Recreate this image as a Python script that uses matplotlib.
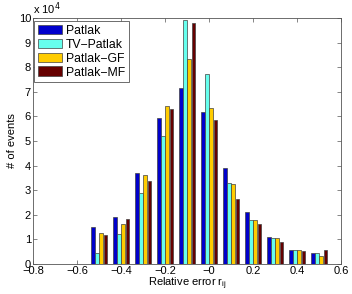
import numpy as np
import matplotlib
matplotlib.use('Agg')
import matplotlib.pyplot as plt
from matplotlib.ticker import FuncFormatter

plt.rcParams['font.family'] = ['Liberation Sans', 'DejaVu Sans']

# 相对误差分组中心
bins = [-0.5, -0.4, -0.3, -0.2, -0.1, 0.0, 0.1, 0.2, 0.3, 0.4, 0.5]
methods = ['Patlak', 'TV\u2212Patlak', 'Patlak\u2212GF', 'Patlak\u2212MF']
colors = ['#0000CC', '#66FFEE', '#FFCC00', '#660000']

# 每组事件数
patlak    = [14900, 19200, 37100, 59500, 71400, 61900, 39000, 21100, 10900, 5700, 4400]
tv_patlak = [4300, 12300, 28900, 52200, 99300, 77400, 32900, 17800, 10500, 5700, 4300]
patlak_gf = [12800, 16100, 36000, 64200, 83300, 63300, 32400, 17700, 10700, 5600, 3400]
patlak_mf = [11700, 18100, 33900, 62900, 98000, 58500, 26500, 16200, 9000, 5200, 5700]
series = [patlak, tv_patlak, patlak_gf, patlak_mf]

fs = 8

fig = plt.figure(figsize=(3.52, 2.94), dpi=100)
ax = fig.add_axes([0.094, 0.102, 0.875, 0.837])

x = np.array(bins)
pitch = 0.019
width = 0.016
for i, (vals, c, name) in enumerate(zip(series, colors, methods)):
    ax.bar(x + (i - 1.5) * pitch, vals, width=width, color=c,
           edgecolor='#404040', linewidth=0.5, label=name)

ax.set_xlim(-0.8, 0.6)
ax.set_ylim(0, 100000)
ax.set_xticks(np.arange(-0.8, 0.61, 0.2))
ax.set_yticks(np.arange(0, 100001, 10000))
ax.xaxis.set_major_formatter(FuncFormatter(lambda v, p: ('%g' % round(v, 1)).replace('-', '\u2212')))
ax.yaxis.set_major_formatter(FuncFormatter(lambda v, p: '%d' % round(v / 1e4)))
ax.tick_params(direction='in', top=True, right=True, length=3, width=0.5,
               labelsize=fs, pad=1.5, colors='#555555', labelcolor='black')
for s in ax.spines.values():
    s.set_color('#555555')
    s.set_linewidth(0.6)

ax.text(0.0, 1.005, 'x 10$^{4}$', transform=ax.transAxes, fontsize=fs,
        ha='left', va='bottom')
ax.set_xlabel('Relative error r$_{\\mathregular{ij}}$', fontsize=fs, labelpad=0)
ax.set_ylabel('# of events', fontsize=fs, labelpad=1)

leg = ax.legend(loc='upper left', bbox_to_anchor=(34 / 352, 1 - 21 / 294),
                bbox_transform=fig.transFigure, borderaxespad=0,
                fontsize=8.8, handlelength=2.0, handleheight=0.85,
                labelspacing=0.15, borderpad=0.3, handletextpad=0.3,
                fancybox=False, framealpha=1)
leg.get_frame().set_edgecolor('#555555')
leg.get_frame().set_linewidth(0.6)

fig.savefig('out.png', dpi=100)
